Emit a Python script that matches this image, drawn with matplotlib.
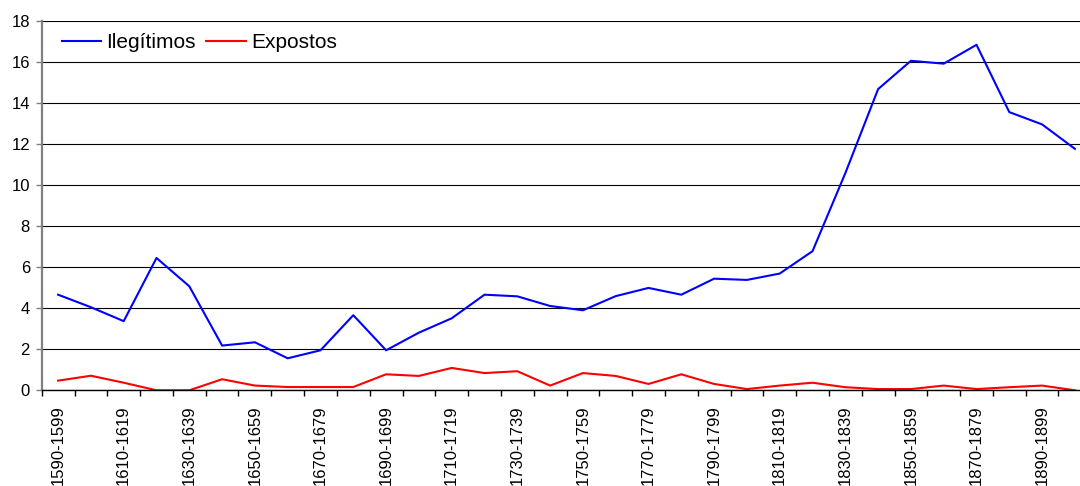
import matplotlib
matplotlib.use("Agg")
import matplotlib.pyplot as plt
from matplotlib.ticker import FixedLocator

plt.rcParams['font.family'] = ['Liberation Sans', 'DejaVu Sans']

# Decades 1590-1599 ... 1900-1909
decades = [f"{y}-{y + 9}" for y in range(1590, 1910, 10)]

ilegitimos = [4.66, 4.05, 3.37, 6.45, 5.07, 2.18, 2.34, 1.56, 1.95, 3.66,
              1.95, 2.81, 3.51, 4.66, 4.58, 4.11, 3.90, 4.59, 4.99, 4.66,
              5.44, 5.38, 5.69, 6.78, 10.58, 14.68, 16.06, 15.92, 16.84, 13.56,
              12.96, 11.77]

expostos = [0.47, 0.71, 0.37, 0.0, 0.0, 0.54, 0.23, 0.16, 0.16, 0.16,
            0.78, 0.70, 1.09, 0.84, 0.93, 0.23, 0.84, 0.70, 0.31, 0.78,
            0.31, 0.06, 0.23, 0.37, 0.15, 0.06, 0.06, 0.23, 0.06, 0.15,
            0.23, 0.0]

y_ticks = list(range(0, 19, 2))

fig = plt.figure(figsize=(10.8, 4.86), dpi=100)
ax = fig.add_axes([41.7 / 1080, 95.7 / 486, 1049.6 / 1080, 369.3 / 486])

x = list(range(len(decades)))
ax.plot(x, ilegitimos, color='#0000FF', lw=1.5, label='Ilegítimos')
ax.plot(x, expostos, color='#FF0000', lw=1.5, label='Expostos')

ax.set_xlim(-0.5, len(decades) - 0.5)
ax.set_ylim(0, 18)

# horizontal gridlines
ax.set_yticks(y_ticks)
ax.set_yticklabels([str(v) for v in y_ticks], fontsize=12)
ax.yaxis.grid(True, color='black', lw=0.8)
ax.set_axisbelow(True)

# category labels on every other decade, tick marks on category boundaries
ax.xaxis.set_major_locator(FixedLocator(x[::2]))
ax.set_xticklabels(decades[::2], rotation=90, fontsize=12, ha='center', va='top')
ax.xaxis.set_minor_locator(FixedLocator([i - 0.5 for i in range(len(decades) + 1)]))
ax.tick_params(axis='x', which='major', length=0, pad=11)
ax.tick_params(axis='x', which='minor', length=4, width=1, color='black', direction='out')
ax.tick_params(axis='y', length=4.5, width=1, color='#808080', pad=4)

for side in ('top', 'right'):
    ax.spines[side].set_visible(False)
ax.spines['left'].set_color('#808080')
ax.spines['left'].set_linewidth(1.6)
ax.spines['bottom'].set_color('black')
ax.spines['bottom'].set_linewidth(1.0)

ax.legend(loc='upper left', bbox_to_anchor=(0.005, 1.006), ncol=2, frameon=False,
          fontsize=15, handlelength=1.9, handletextpad=0.25, columnspacing=0.5,
          borderaxespad=0.3)

fig.savefig('out.png', dpi=100)
